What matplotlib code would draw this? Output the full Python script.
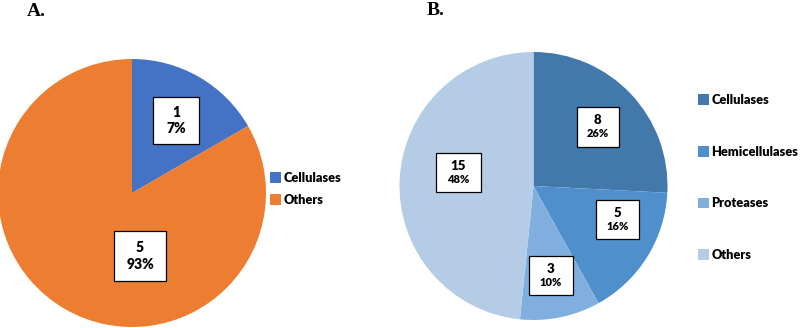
import matplotlib
matplotlib.use("Agg")
import matplotlib.pyplot as plt
from matplotlib.patches import Rectangle, Patch

# ---- data ----
a_labels = ["Cellulases", "Others"]
a_values = [1, 5]
a_pcts = ["7%", "93%"]

b_labels = ["Cellulases", "Hemicellulases", "Proteases", "Others"]
b_values = [8, 5, 3, 15]
b_pcts = ["26%", "16%", "10%", "48%"]

# ---- style ----
a_colors = ["#4472C4", "#ED7D31"]
b_colors = ["#4279AA", "#4F8FCB", "#80AFDF", "#B4CCE5"]

# label box positions (pie radius units) and sizes
a_box_pos = [(0.33, 0.54), (0.06, -0.47)]
a_box_size = [(0.34, 0.35), (0.39, 0.37)]
b_box_pos = [(0.48, 0.44), (0.63, -0.25), (0.13, -0.67), (-0.56, 0.10)]
b_box_size = [(0.31, 0.30), (0.32, 0.29), (0.33, 0.29), (0.33, 0.29)]

FONT = ["Lato", "DejaVu Sans"]

W, H = 800, 328
fig = plt.figure(figsize=(8, 3.28), dpi=100)


def pie_axes(cx, cy, r):
    return fig.add_axes([(cx - r) / W, (H - cy - r) / H, 2 * r / W, 2 * r / H])


def draw_boxes(ax, values, pcts, pos, size, fs1, fs2):
    for v, p, (x, y), (w, h) in zip(values, pcts, pos, size):
        ax.add_patch(Rectangle((x - w / 2, y - h / 2), w, h, facecolor="white",
                               edgecolor="black", linewidth=0.9, zorder=5))
        ax.text(x, y + h * 0.17, str(v), ha="center", va="center",
                fontsize=fs1, fontweight="heavy", family=FONT, zorder=6)
        ax.text(x, y - h * 0.17, p, ha="center", va="center",
                fontsize=fs2, fontweight="heavy", family=FONT, zorder=6)


# ---- Pie A ----
axA = pie_axes(132, 193, 134)
axA.pie(a_values, colors=a_colors, startangle=90, counterclock=False,
        radius=1, wedgeprops=dict(linewidth=0))
axA.set_xlim(-1, 1)
axA.set_ylim(-1, 1)
axA.set_aspect("auto")
axA.axis("off")
draw_boxes(axA, a_values, a_pcts, a_box_pos, a_box_size, 10, 10)

# ---- Pie B ----
axB = pie_axes(533.5, 186, 134)
axB.pie(b_values, colors=b_colors, startangle=90, counterclock=False,
        radius=1, wedgeprops=dict(linewidth=0))
axB.set_xlim(-1, 1)
axB.set_ylim(-1, 1)
axB.set_aspect("auto")
axB.axis("off")
draw_boxes(axB, b_values, b_pcts, b_box_pos, b_box_size, 9.5, 8)

# ---- legends ----
hA = [Patch(facecolor=c, edgecolor="none") for c in a_colors]
fig.legend(hA, a_labels, loc="center left", bbox_to_anchor=(266 / W, 1 - 189 / H),
           frameon=False, prop=dict(family=FONT, weight="heavy", size=9.2),
           handlelength=0.9, handleheight=0.9, handletextpad=0.15,
           labelspacing=0.75, borderaxespad=0, borderpad=0.3)

hB = [Patch(facecolor=c, edgecolor="none") for c in b_colors]
fig.legend(hB, b_labels, loc="center left", bbox_to_anchor=(694 / W, 1 - 177.5 / H),
           frameon=False, prop=dict(family=FONT, weight="heavy", size=9.2),
           handlelength=0.9, handleheight=0.9, handletextpad=0.15,
           labelspacing=3.1, borderaxespad=0, borderpad=0.3)

# ---- panel titles ----
fig.text(27 / W, 1 - 16 / H, "A.", family=["Liberation Serif"], fontweight="bold",
         fontsize=14, ha="left", va="baseline")
fig.text(427 / W, 1 - 15 / H, "B.", family=["Liberation Serif"], fontweight="bold",
         fontsize=14, ha="left", va="baseline")

fig.savefig("out.png", dpi=100, facecolor="white")
